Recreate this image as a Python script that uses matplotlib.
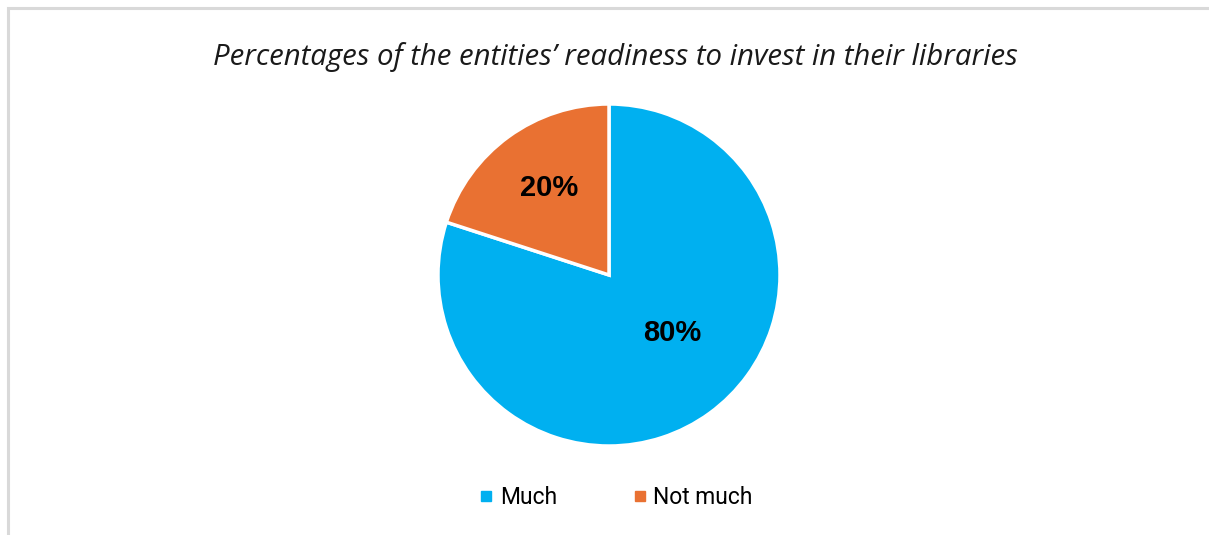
import matplotlib
matplotlib.use("Agg")
import matplotlib.pyplot as plt
from matplotlib.patches import Rectangle
from matplotlib.lines import Line2D

categories = ["Much", "Not much"]
shares = [80, 20]
colors = ["#00B0F0", "#E97132"]
title = "Percentages of the entities\u2019 readiness to invest in their libraries"

W, H = 1209, 535
fig = plt.figure(figsize=(W / 100, H / 100), dpi=100)

# light grey chart frame (runs off the right and bottom edges)
fig.patches.append(Rectangle((7.5 / W, -0.1), 1.2, (H - 8.5) / H + 0.1,
                             transform=fig.transFigure, fill=False,
                             edgecolor="#D9D9D9", linewidth=2.2))

fig.text(615 / W, 1 - 57 / H, title, ha="center", va="center",
         fontsize=21.2, style="italic", family="Open Sans", color="#1a1a1a")

# pie centred at (609, 275) px, radius 171 px
cx, cy, r = 609, 275, 171
ax = fig.add_axes([(cx - r) / W, (H - cy - r) / H, 2 * r / W, 2 * r / H])
wedges, texts, autotexts = ax.pie(
    shares, colors=colors, startangle=90, counterclock=False,
    autopct="%d%%", pctdistance=0.55,
    wedgeprops=dict(edgecolor="white", linewidth=2.5),
    textprops=dict(fontsize=21, fontweight="bold", family="Liberation Sans",
                   color="black"))
autotexts[0].set_position((0.368, -0.339))
autotexts[1].set_position((-0.351, 0.509))
ax.set_xlim(-1.0, 1.0)
ax.set_ylim(-1.0, 1.0)
ax.set_aspect("equal")
ax.axis("off")

handles = [Line2D([], [], marker="s", linestyle="none", markersize=6.5,
                  markerfacecolor=c, markeredgecolor=c) for c in colors]
fig.legend(handles, categories, loc="center", bbox_to_anchor=(616 / W, 1 - 498 / H),
           ncol=2, frameon=False, handlelength=0.6, handletextpad=0.3,
           columnspacing=3.3, prop=dict(family="Roboto", size=16.5))

fig.savefig("out.png", dpi=100, facecolor="white")
